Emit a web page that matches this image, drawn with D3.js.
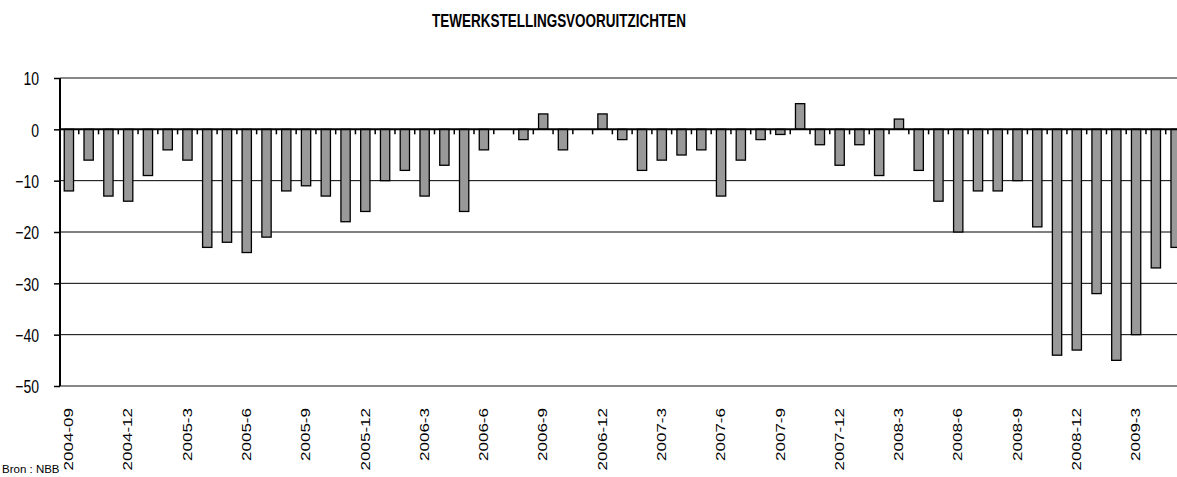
<!DOCTYPE html>
<html>
<head>
<meta charset="utf-8">
<script src="https://cdn.jsdelivr.net/npm/d3@7"></script>
<style>
  body { margin: 0; background: #fff; }
  svg { display: block; font-family: "Liberation Sans", Arial, sans-serif; }
</style>
</head>
<body>
<svg id="chart" width="1177" height="477"></svg>
<script>
// months on the x axis
const categories = [
  "2004-09","2004-10","2004-11","2004-12",
  "2005-1","2005-2","2005-3","2005-4","2005-5","2005-6","2005-7","2005-8","2005-9","2005-10","2005-11","2005-12",
  "2006-1","2006-2","2006-3","2006-4","2006-5","2006-6","2006-7","2006-8","2006-9","2006-10","2006-11","2006-12",
  "2007-1","2007-2","2007-3","2007-4","2007-5","2007-6","2007-7","2007-8","2007-9","2007-10","2007-11","2007-12",
  "2008-1","2008-2","2008-3","2008-4","2008-5","2008-6","2008-7","2008-8","2008-9","2008-10","2008-11","2008-12",
  "2009-1","2009-2","2009-3","2009-4","2009-5"
]

// employment outlook balance (null = no bar)
const values = [
  -12, -6, -13, -14,
  -9, -4, -6, -23, -22, -24, -21, -12, -11, -13, -18, -16,
  -10, -8, -13, -7, -16, -4, null, -2, 3, -4, null, 3,
  -2, -8, -6, -5, -4, -13, -6, -2, -1, 5, -3, -7,
  -3, -9, 2, -8, -14, -20, -12, -12, -10, -19, -44, -43,
  -32, -45, -40, -27, -23
]

const tickLabels = ["2004-09","2004-12","2005-3","2005-6","2005-9","2005-12","2006-3","2006-6","2006-9",
  "2006-12","2007-3","2007-6","2007-9","2007-12","2008-3","2008-6","2008-9","2008-12","2009-3"]
const yTicks = [10, 0, -10, -20, -30, -40, -50]

const svg = d3.select('#chart')
const W = 1177

//scales
const x = d3.scaleBand().domain(categories).range([59, 1185.5]).paddingInner(0.53).paddingOuter(0.265)
const y = d3.scaleLinear().domain([-50, 10]).range([386, 78])

//title
svg.append('text')
  .attr('transform', 'translate(559,27) scale(1,1.4)')
  .attr('text-anchor', 'middle')
  .style('font-size', '13.5px')
  .style('font-weight', 'bold')
  .text('TEWERKSTELLINGSVOORUITZICHTEN')

//grid lines
svg.append('g').selectAll('line')
  .data(yTicks.filter(d => d < 0 && d > -50))
  .join('line')
  .attr('x1', 60).attr('x2', W)
  .attr('y1', d => y(d)).attr('y2', d => y(d))
  .attr('stroke', '#000').attr('stroke-width', 1)

//top and bottom border
svg.append('g').selectAll('line')
  .data([10, -50])
  .join('line')
  .attr('x1', 60).attr('x2', W)
  .attr('y1', d => y(d)).attr('y2', d => y(d))
  .attr('stroke', '#888').attr('stroke-width', 2)

//bars
const barData = categories.map((c, i) => ({cat: c, v: values[i]})).filter(d => d.v !== null)
svg.append('g').selectAll('rect')
  .data(barData)
  .join('rect')
  .attr('x', d => x(d.cat))
  .attr('width', x.bandwidth())
  .attr('y', d => y(Math.max(0, d.v)))
  .attr('height', d => Math.abs(y(d.v) - y(0)))
  .attr('fill', '#999')
  .attr('stroke', '#000')
  .attr('stroke-width', 1.3)

//zero line with small ticks between categories
svg.append('line')
  .attr('x1', 60).attr('x2', W)
  .attr('y1', y(0)).attr('y2', y(0))
  .attr('stroke', '#000').attr('stroke-width', 2)

svg.append('g').selectAll('line')
  .data(categories.slice(1))
  .join('line')
  .attr('x1', d => x(d) - x.step() * x.paddingInner() / 2)
  .attr('x2', d => x(d) - x.step() * x.paddingInner() / 2)
  .attr('y1', y(0)).attr('y2', y(0) + 5)
  .attr('stroke', '#000').attr('stroke-width', 1.5)

//y axis
const yAxis = d3.axisLeft(y).tickValues(yTicks).tickSize(6).tickPadding(15)
const gy = svg.append('g').attr('transform', 'translate(60,0)').call(yAxis)
gy.select('.domain').remove()
gy.selectAll('line').attr('stroke', '#000').attr('stroke-width', 1.5)
gy.selectAll('text')
  .attr('fill', '#000')
  .attr('dy', null)
  .attr('dominant-baseline', 'central')
  .attr('transform', 'scale(1,1.3)')
  .style('font-size', '14px')
  .style('font-family', '"Liberation Sans", Arial, sans-serif')

svg.append('line')
  .attr('x1', 60).attr('x2', 60)
  .attr('y1', y(10)).attr('y2', y(-50))
  .attr('stroke', '#000').attr('stroke-width', 2)

//x axis labels
const xAxis = d3.axisBottom(x).tickValues(tickLabels).tickSize(0).tickPadding(0)
const gx = svg.append('g').attr('transform', 'translate(0,408)').call(xAxis)
gx.select('.domain').remove()
gx.selectAll('text')
  .attr('fill', '#000')
  .attr('x', 0).attr('y', 0)
  .attr('dy', '0.35em')
  .attr('text-anchor', 'end')
  .attr('transform', 'scale(1,1.42) rotate(-90)')
  .style('font-size', '12px')
  .style('font-family', '"Liberation Sans", Arial, sans-serif')

//source
svg.append('text')
  .attr('x', 2).attr('y', 473)
  .style('font-size', '11.5px')
  .text('Bron : NBB')
</script>
</body>
</html>
